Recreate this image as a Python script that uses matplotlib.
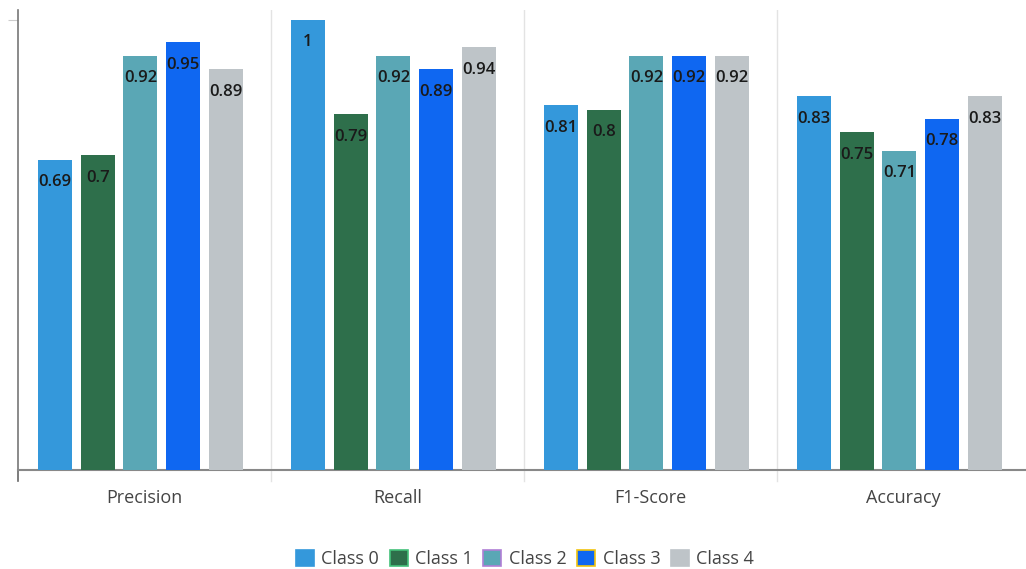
import matplotlib.pyplot as plt
from matplotlib.patches import Patch
import numpy as np

metrics = ["Precision", "Recall", "F1-Score", "Accuracy"]
classes = ["Class 0", "Class 1", "Class 2", "Class 3", "Class 4"]
class0 = [0.69, 1, 0.81, 0.83]
class1 = [0.7, 0.79, 0.8, 0.75]
class2 = [0.92, 0.92, 0.92, 0.71]
class3 = [0.95, 0.89, 0.92, 0.78]
class4 = [0.89, 0.94, 0.92, 0.83]
series = [class0, class1, class2, class3, class4]

colors = ["#3498db", "#2e6f4b", "#5aa7b5", "#0f67f1", "#bec4c8"]
legend_edges = ["#3498db", "#44c17a", "#b07fd6", "#f1c40f", "#bec4c8"]

W, H = 1026, 569
fig = plt.figure(figsize=(W / 100, H / 100), dpi=100)
# axes: left spine at x=18px, baseline at y=470px, top at y=10px
ax = fig.add_axes([18 / W, 1 - 470 / H, (W - 18) / W, 460 / H])

group_px = 253
x = np.arange(len(metrics))
step = 42.8 / group_px
width = 34 / group_px
for k, (vals, c) in enumerate(zip(series, colors)):
    pos = x + (k - 2) * step - 0.016
    bars = ax.bar(pos, vals, width=width, color=c, zorder=3)
    for b, v in zip(bars, vals):
        ax.text(b.get_x() + b.get_width() / 2, v - 0.05, f"{v:g}",
                ha="center", va="center", fontsize=12, fontweight=600,
                family="Open Sans", color="#1a1a1a", zorder=4)

ax.set_xlim(-0.5, (W - 18) / group_px - 0.5)
ax.set_ylim(0, 460 / 450)

# light separators between metric groups
for s in [0.5, 1.5, 2.5, 3.5]:
    ax.axvline(s, color="#e3e3e3", lw=1, zorder=1)
    ax.plot([s, s], [0, -0.025], color="#e3e3e3", lw=1, clip_on=False)
ax.plot([-0.5, -0.5], [0, -0.025], color="#666666", lw=1.2, clip_on=False)

for side in ["top", "right"]:
    ax.spines[side].set_visible(False)
ax.spines["left"].set_color("#777777")
ax.spines["left"].set_linewidth(1.2)
ax.spines["bottom"].set_color("#888888")
ax.spines["bottom"].set_linewidth(1.5)

ax.set_yticks([1])
ax.set_yticklabels([""])
ax.tick_params(axis="y", length=7, color="#cccccc")
ax.set_xticks(x)
ax.set_xticklabels(metrics, family="Open Sans", fontsize=13, color="#444444")
ax.tick_params(axis="x", length=0, pad=14)

handles = [Patch(facecolor=c, edgecolor=e, lw=1.2) for c, e in zip(colors, legend_edges)]
fig.legend(handles, classes, loc="center", bbox_to_anchor=(525 / W, 1 - 559 / H),
           ncol=5, frameon=False, handlelength=1.0, handleheight=1.0,
           handletextpad=0.4, columnspacing=0.6,
           prop={"family": "Open Sans", "size": 13}, labelcolor="#444444")

fig.savefig("out.png", dpi=100)
